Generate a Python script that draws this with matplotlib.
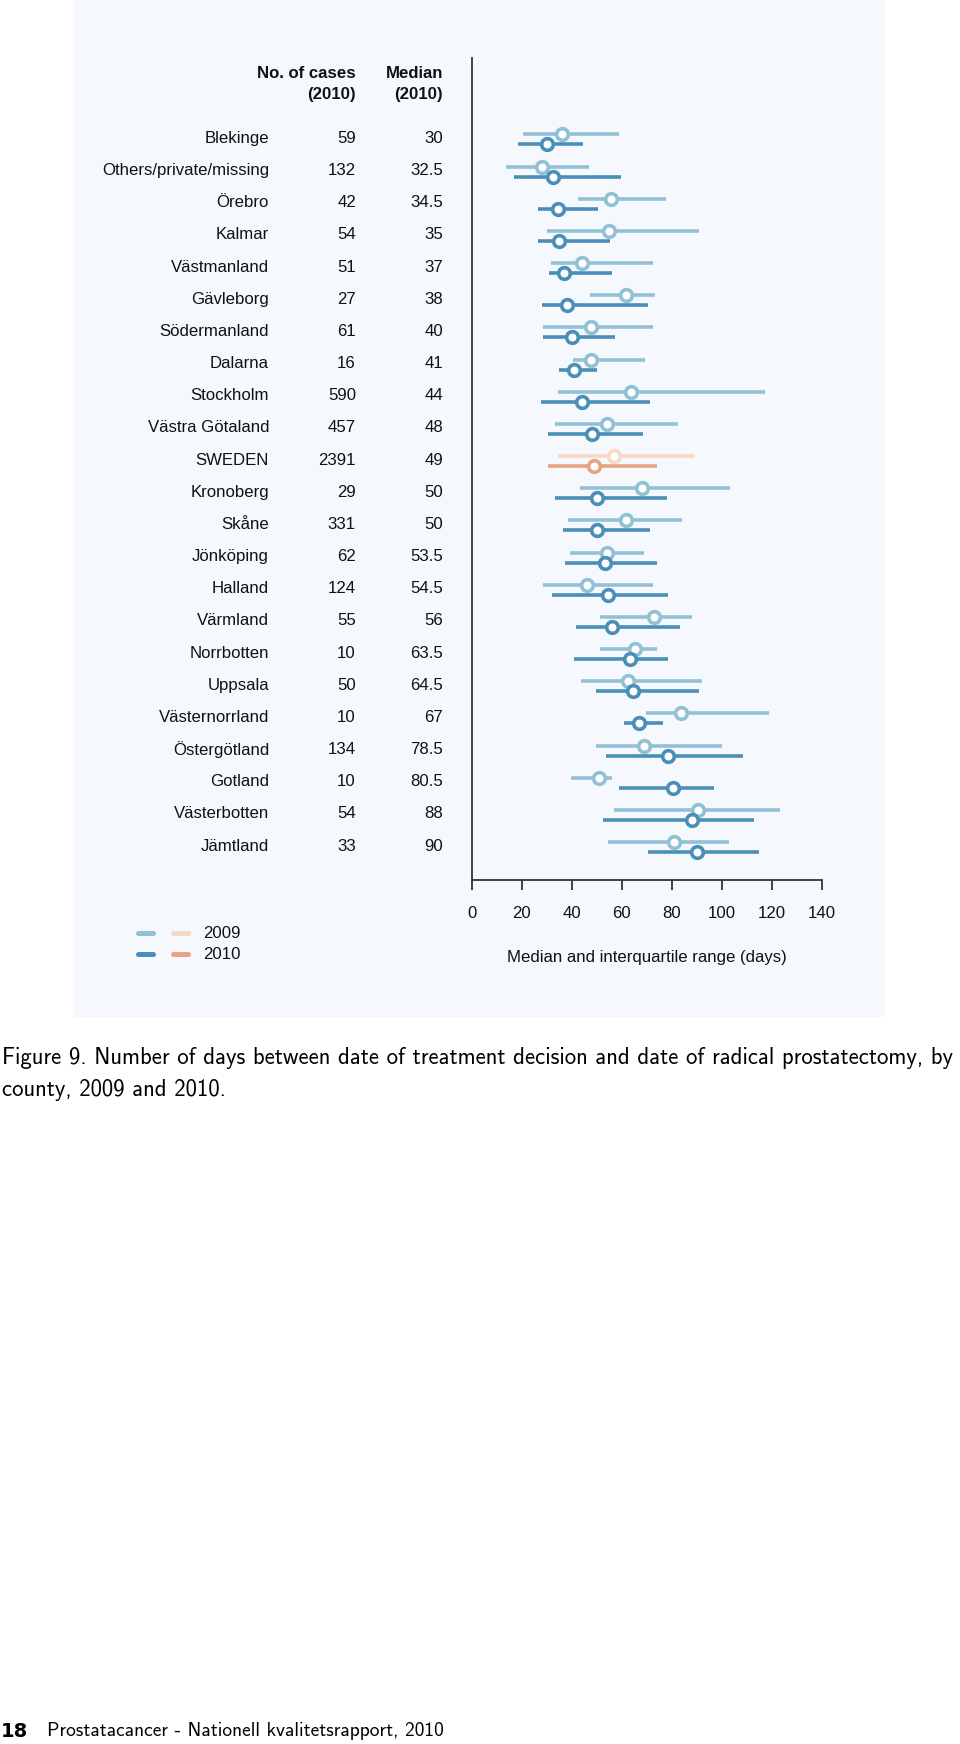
import matplotlib
matplotlib.use("Agg")
import matplotlib.pyplot as plt
from matplotlib.lines import Line2D
from matplotlib.transforms import blended_transform_factory

regions = ["Blekinge", "Others/private/missing", "Örebro", "Kalmar", "Västmanland",
           "Gävleborg", "Södermanland", "Dalarna", "Stockholm", "Västra Götaland",
           "SWEDEN", "Kronoberg", "Skåne", "Jönköping", "Halland", "Värmland",
           "Norrbotten", "Uppsala", "Västernorrland", "Östergötland", "Gotland",
           "Västerbotten", "Jämtland"]
cases_2010 = ["59", "132", "42", "54", "51", "27", "61", "16", "590", "457", "2391",
              "29", "331", "62", "124", "55", "10", "50", "10", "134", "10", "54", "33"]
median_2010_lbl = ["30", "32.5", "34.5", "35", "37", "38", "40", "41", "44", "48", "49",
                   "50", "50", "53.5", "54.5", "56", "63.5", "64.5", "67", "78.5", "80.5",
                   "88", "90"]

med_2009 = [36, 28, 55.6, 55.1, 44, 61.6, 47.7, 47.6, 63.9, 54, 56.9, 68, 61.7, 54,
            46, 72.9, 65.3, 62.7, 83.7, 68.9, 50.9, 90.4, 81.1]
q1_2009 = [20.7, 13.7, 42.4, 30.3, 31.6, 47.3, 28.4, 40.7, 34.4, 33.3, 34.4, 43.3, 38.4,
           39.3, 28.4, 51.3, 51.3, 43.6, 69.7, 49.6, 39.6, 57.1, 54.7]
q3_2009 = [58.9, 47.1, 77.7, 91.1, 72.4, 73.3, 72.4, 69.3, 117.5, 82.4, 89.3, 103.3, 84,
           68.9, 72.7, 88, 74, 92.3, 118.9, 100.3, 56.3, 123.3, 103.1]

med_2010 = [30, 32.5, 34.5, 35, 37, 38, 40, 41, 44, 48, 49, 50, 50, 53.5, 54.5, 56,
            63.5, 64.5, 67, 78.5, 80.5, 88, 90]
q1_2010 = [18.7, 17.1, 26.4, 26.4, 30.9, 28, 28.7, 35.1, 27.6, 30.4, 30.4, 33.3, 36.4,
           37.3, 32, 41.6, 40.9, 49.7, 60.9, 53.6, 59.1, 52.4, 70.7]
q3_2010 = [44.4, 59.6, 50.7, 55.3, 56, 70.4, 57.3, 50, 71.3, 68.4, 74.3, 78.3, 71.3, 74,
           78.4, 83.3, 78.7, 91.1, 76.7, 108.7, 97.1, 113.1, 115.1]

xticks = [0, 20, 40, 60, 80, 100, 120, 140]

W, H = 960, 1744
fig = plt.figure(figsize=(W / 100, H / 100), dpi=100)
fig.patch.set_facecolor("white")

def fx(px):
    return px / W

def fy(py):
    return 1 - py / H

CHART_FONT = ["Liberation Sans", "DejaVu Sans"]
FS = 12.1
TXT = "#111111"

# panel background
bg = fig.add_axes([fx(73), fy(1017), fx(885) - fx(73), fy(0) - fy(1017)])
bg.set_facecolor("#f5f9fd")
bg.set_xticks([]); bg.set_yticks([])
for s in bg.spines.values():
    s.set_visible(False)
bg.set_zorder(0)

# main axes
x0, x1 = 471.7, 821.7
ytop, ybot = 58, 880.5
ax = fig.add_axes([fx(x0), fy(ybot), fx(x1) - fx(x0), fy(ytop) - fy(ybot)])
ax.set_zorder(1)
ax.patch.set_alpha(0)
row0, rstep = 138.5, 32.16
ax.set_xlim(0, 140)
ax.set_ylim((ybot - row0) / rstep, (ytop - row0) / rstep)
for s in ["top", "right"]:
    ax.spines[s].set_visible(False)
for s in ["left", "bottom"]:
    ax.spines[s].set_color("#333333")
    ax.spines[s].set_linewidth(1.3)
ax.set_yticks([])
ax.set_xticks(xticks)
ax.set_xticklabels([str(t) for t in xticks], fontfamily=CHART_FONT, fontsize=FS, color=TXT)
ax.tick_params(axis="x", direction="out", length=7, width=1.3, color="#333333", pad=11)
ax.set_xlabel("Median and interquartile range (days)", fontfamily=CHART_FONT,
              fontsize=FS, color=TXT, labelpad=21)

c09, c10 = "#92c1d6", "#4a8fb8"
s09, s10 = "#f8d8c4", "#e8a382"
off09 = 4.0 / rstep
off10 = 6.0 / rstep
for i, r in enumerate(regions):
    a, b = (s09, s10) if r == "SWEDEN" else (c09, c10)
    ax.plot([q1_2009[i], q3_2009[i]], [i - off09, i - off09], color=a, lw=2.6,
            solid_capstyle="butt", zorder=2)
    ax.plot([med_2009[i]], [i - off09], "o", ms=8.4, mfc="white", mec=a, mew=2.6, zorder=3)
    ax.plot([q1_2010[i], q3_2010[i]], [i + off10, i + off10], color=b, lw=2.6,
            solid_capstyle="butt", zorder=4)
    ax.plot([med_2010[i]], [i + off10], "o", ms=8.4, mfc="white", mec=b, mew=2.6, zorder=5)

tr = blended_transform_factory(fig.transFigure, ax.transData)
for i, r in enumerate(regions):
    ax.text(fx(269), i, r, transform=tr, ha="right", va="center",
            fontfamily=CHART_FONT, fontsize=FS, color=TXT, clip_on=False)
    ax.text(fx(356), i, cases_2010[i], transform=tr, ha="right", va="center",
            fontfamily=CHART_FONT, fontsize=FS, color=TXT, clip_on=False)
    ax.text(fx(443), i, median_2010_lbl[i], transform=tr, ha="right", va="center",
            fontfamily=CHART_FONT, fontsize=FS, color=TXT, clip_on=False)

# headers
for xx, t1 in [(356, "No. of cases"), (443, "Median")]:
    fig.text(fx(xx), fy(74), t1, ha="right", va="center", fontfamily=CHART_FONT,
             fontsize=FS, fontweight="bold", color=TXT)
    fig.text(fx(xx), fy(95), "(2010)", ha="right", va="center", fontfamily=CHART_FONT,
             fontsize=FS, fontweight="bold", color=TXT)

# legend
for yy, ca, cb, lab in [(933, c09, s09, "2009"), (954, c10, s10, "2010")]:
    fig.add_artist(Line2D([fx(138), fx(153)], [fy(yy), fy(yy)], color=ca, lw=3.6,
                          solid_capstyle="round", transform=fig.transFigure))
    fig.add_artist(Line2D([fx(173), fx(188)], [fy(yy), fy(yy)], color=cb, lw=3.6,
                          solid_capstyle="round", transform=fig.transFigure))
    fig.text(fx(203), fy(yy), lab, ha="left", va="center", fontfamily=CHART_FONT,
             fontsize=FS, color=TXT)

# caption
cap_font = ["cmss10", "DejaVu Sans"]
renderer = fig.canvas.get_renderer()
cap1 = fig.text(fx(2), fy(1058),
                "Figure 9. Number of days between date of treatment decision and date of radical prostatectomy, by",
                ha="left", va="center", fontfamily=cap_font, fontsize=14, color="black")
w = cap1.get_window_extent(renderer).width
cap_fs = 14 * 952.0 / w
cap1.set_fontsize(cap_fs)
fig.text(fx(2), fy(1090), "county, 2009 and 2010.", ha="left", va="center",
         fontfamily=cap_font, fontsize=cap_fs, color="black")

# footer
fig.text(fx(1), fy(1731), "18", ha="left", va="center", fontfamily=["DejaVu Sans"],
         fontsize=14, fontweight="bold", color="black")
foot = fig.text(fx(47), fy(1731), "Prostatacancer - Nationell kvalitetsrapport, 2010",
                ha="left", va="center", fontfamily=cap_font, fontsize=14, color="black")
wf = foot.get_window_extent(renderer).width
foot.set_fontsize(14 * 397.0 / wf)

fig.savefig("out.png", dpi=100, facecolor="white")
